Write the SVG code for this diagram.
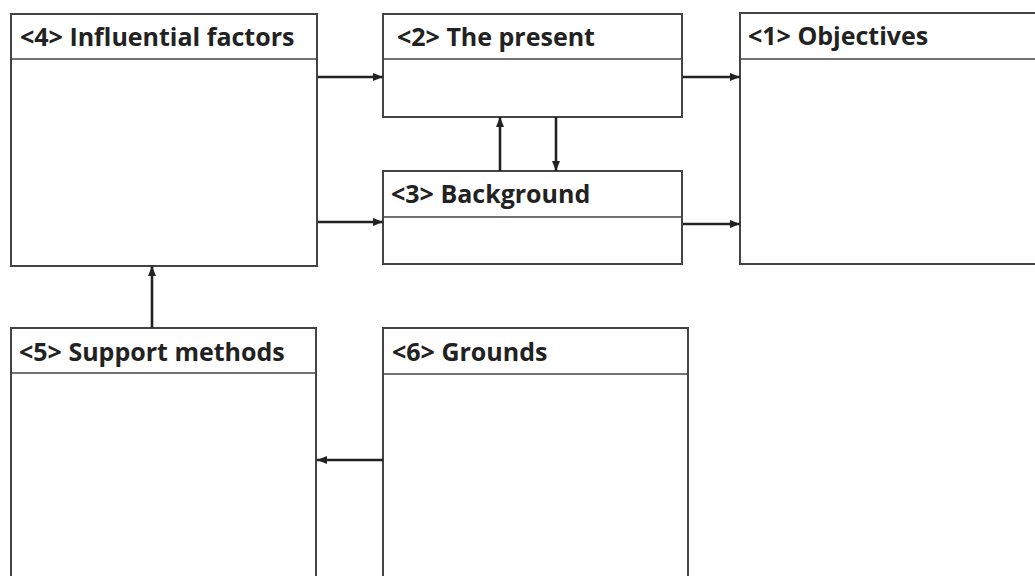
<svg xmlns="http://www.w3.org/2000/svg" width="1035" height="576" viewBox="0 0 1035 576">
  <defs>
    <marker id="arrow" viewBox="0 0 10 10" refX="10" refY="5" markerWidth="4" markerHeight="4" orient="auto" markerUnits="strokeWidth">
      <path d="M0,1 L10,5 L0,9 Z" fill="#222"/>
    </marker>
  </defs>
  <style>
    .box { fill: #fff; stroke: #444; stroke-width: 2; }
    .sep { stroke: #444; stroke-width: 1.6; }
    .title { font-family: "Open Sans", "Liberation Sans", sans-serif; font-weight: 700; font-size: 25px; fill: #222; }
    .link { stroke: #222; stroke-width: 2.6; fill: none; marker-end: url(#arrow); }
  </style>
  <rect width="1035" height="576" fill="#fff"/>

  <g id="node-4">
    <rect class="box" x="11" y="14" width="306" height="252"/>
    <line class="sep" x1="11" y1="59" x2="317" y2="59"/>
    <text class="title" x="20" y="46">&lt;4&gt; Influential factors</text>
  </g>
  <g id="node-2">
    <rect class="box" x="383" y="14" width="299" height="103"/>
    <line class="sep" x1="383" y1="59" x2="682" y2="59"/>
    <text class="title" x="397" y="46">&lt;2&gt; The present</text>
  </g>
  <g id="node-3">
    <rect class="box" x="383" y="171" width="299" height="93"/>
    <line class="sep" x1="383" y1="217" x2="682" y2="217"/>
    <text class="title" x="391" y="203">&lt;3&gt; Background</text>
  </g>
  <g id="node-1">
    <rect class="box" x="740" y="13" width="310" height="251"/>
    <line class="sep" x1="740" y1="59" x2="1035" y2="59"/>
    <text class="title" x="748" y="45">&lt;1&gt; Objectives</text>
  </g>
  <g id="node-5">
    <rect class="box" x="11" y="328" width="305" height="270"/>
    <line class="sep" x1="11" y1="373" x2="316" y2="373"/>
    <text class="title" x="19" y="361">&lt;5&gt; Support methods</text>
  </g>
  <g id="node-6">
    <rect class="box" x="383" y="328" width="305" height="270"/>
    <line class="sep" x1="383" y1="374" x2="688" y2="374"/>
    <text class="title" x="392" y="361">&lt;6&gt; Grounds</text>
  </g>

  <g id="connectors">
    <line class="link" x1="318" y1="77" x2="383" y2="77"/>
    <line class="link" x1="318" y1="222" x2="383" y2="222"/>
    <line class="link" x1="683" y1="77" x2="740" y2="77"/>
    <line class="link" x1="683" y1="224" x2="740" y2="224"/>
    <line class="link" x1="500" y1="171" x2="500" y2="117"/>
    <line class="link" x1="556" y1="117" x2="556" y2="171"/>
    <line class="link" x1="152" y1="328" x2="152" y2="266"/>
    <line class="link" x1="383" y1="460" x2="317" y2="460"/>
  </g>
</svg>
